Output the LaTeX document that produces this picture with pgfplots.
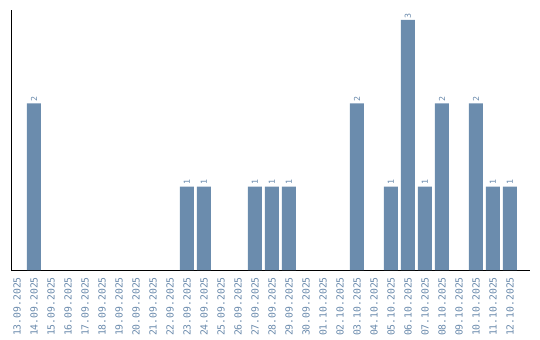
\documentclass[border=0pt]{standalone}
\usepackage{fontspec}
\setmonofont{DejaVu Sans Mono}
\usepackage{pgfplots}
\pgfplotsset{compat=1.18}
\definecolor{barc}{HTML}{6B8CAD}
\definecolor{txtc}{HTML}{6A8AAC}
\begin{document}
\begin{tikzpicture}
\begin{axis}[
  scale only axis, width=519bp, height=260bp,
  xmin=-0.35, xmax=30.18, ymin=0, ymax=3.12,
  axis lines*=left,
  axis line style={black, line width=0.9pt},
  ytick=\empty,
  xtick={0,...,29},
  xticklabels={13.09.2025,14.09.2025,15.09.2025,16.09.2025,17.09.2025,18.09.2025,19.09.2025,20.09.2025,21.09.2025,22.09.2025,23.09.2025,24.09.2025,25.09.2025,26.09.2025,27.09.2025,28.09.2025,29.09.2025,30.09.2025,01.10.2025,02.10.2025,03.10.2025,04.10.2025,05.10.2025,06.10.2025,07.10.2025,08.10.2025,09.10.2025,10.10.2025,11.10.2025,12.10.2025},
  major tick length=0pt,
  xticklabel style={rotate=90, anchor=east, font=\ttfamily\fontsize{9.8}{10}\selectfont, text=txtc, inner sep=0pt},
  xtick style={draw=none},
  tick label style={yshift=-7bp},
  ybar, bar width=14bp,
  nodes near coords={\ttfamily\fontsize{8.3}{9}\selectfont\pgfmathprintnumber[assume math mode=true]{\pgfplotspointmeta}},
  nodes near coords style={rotate=90, anchor=west, text=txtc, inner sep=1.5bp},
  clip=false,
]
\addplot[fill=barc, draw=none] coordinates {
(1,2) (10,1) (11,1) (14,1) (15,1) (16,1) (20,2) (22,1) (23,3) (24,1) (25,2) (27,2) (28,1) (29,1)};
\end{axis}
\pgfresetboundingbox
\path[use as bounding box] ([xshift=-11bp,yshift=-70bp]current axis.south west) rectangle ([xshift=10bp,yshift=10bp]current axis.north east);
\end{tikzpicture}
\end{document}
